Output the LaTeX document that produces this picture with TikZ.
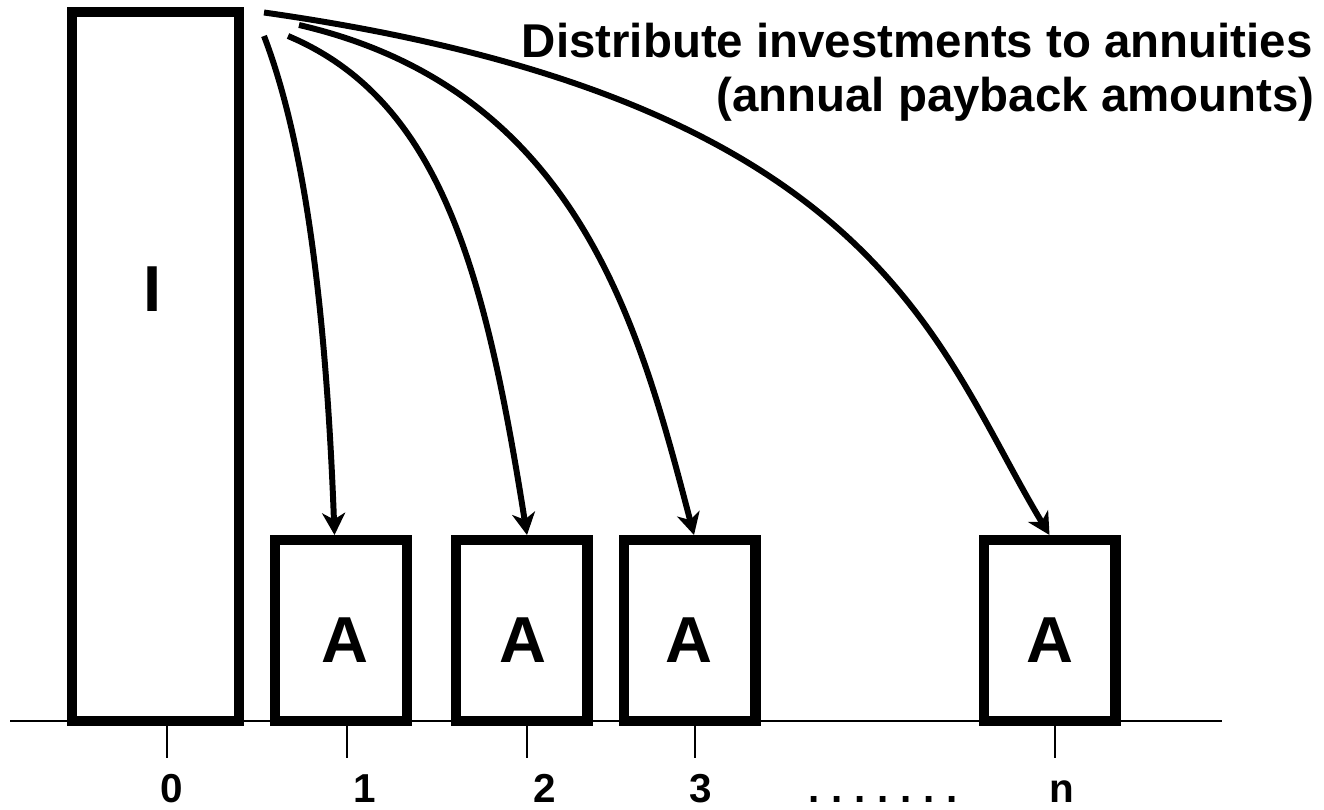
\documentclass[tikz,border=0pt]{standalone}
\usepackage{fontspec}
\setmainfont{Liberation Sans}
\usetikzlibrary{arrows.meta,calc}
\begin{document}
\begin{tikzpicture}[x=0.02cm,y=-0.02cm,
  box/.style={draw, line width=5.7pt, inner sep=0pt},
  bigbox/.style={box, minimum width=3.34cm, minimum height=14.18cm},
  abox/.style={box, minimum width=2.64cm, minimum height=3.62cm},
  big/.style={font=\fontsize{37}{40}\selectfont\bfseries, inner sep=0pt, anchor=base},
  ttl/.style={font=\fontsize{27}{30}\selectfont\bfseries, inner sep=0pt, anchor=base east},
  lbl/.style={font=\fontsize{23}{26}\selectfont\bfseries, inner sep=0pt, anchor=base},
  conn/.style={line width=3.4pt, -{Stealth[length=0.44cm, width=0.46cm, inset=0.13cm]}},
  axisline/.style={line width=1.1pt},
  tick/.style={line width=0.7pt}]
\useasboundingbox (0,0) rectangle (1324,810);

% axis
\coordinate (axL) at (10,721);
\coordinate (axR) at (1222,721);
\draw[axisline] (axL) -- (axR);

% boxes
\node[bigbox] (I) at (155.5,366.5) {};
\node[abox] (A1) at (341,630.5) {};
\node[abox] (A2) at (521.5,630.5) {};
\node[abox] (A3) at (689.5,630.5) {};
\node[abox] (An) at (1049.5,630.5) {};

\node[big] (tI) at (153,312) {I};
\node[big] (tA1) at (345,662) {A};
\node[big] (tA2) at (523,662) {A};
\node[big] (tA3) at (689,662) {A};
\node[big] (tAn) at (1049.5,662) {A};

% ticks and labels
\foreach \n/\x/\lx/\t in {0/167/172/0, 1/347/365/1, 2/527/545/2, 3/695/701/3, n/1055/1062/n}{
  \coordinate (tk\n) at (\x,721);
  \coordinate (tb\n) at (\x,758);
  \draw[tick] (tk\n) -- (tb\n);
  \node[lbl] (l\n) at (\lx,802) {\t};
}
\node[lbl] (dots) at (883,802) {.\kern0.236cm.\kern0.236cm.\kern0.236cm.\kern0.236cm.\kern0.236cm.\kern0.236cm.};

% title
\node[ttl] (t1) at (1313,58) {Distribute investments to annuities};
\node[ttl] (t2) at (1315,112) {(annual payback amounts)};

% arrow start points
\coordinate (s1) at (264,36);
\coordinate (s2) at (288,36);
\coordinate (s3) at (299,25);
\coordinate (sn) at (264,12.5);

\draw[conn] (s1) .. controls (300,130) and (325,280) .. ([xshift=-0.13cm]A1.north);
\draw[conn] (s2) .. controls (440,100) and (485,270) .. ([xshift=0.11cm]A2.north);
\draw[conn] (s3) .. controls (580,90) and (640,330) .. ([xshift=0.09cm]A3.north);
\draw[conn] (sn) .. controls (880,100) and (935,345) .. (An.north);
\end{tikzpicture}
\end{document}
